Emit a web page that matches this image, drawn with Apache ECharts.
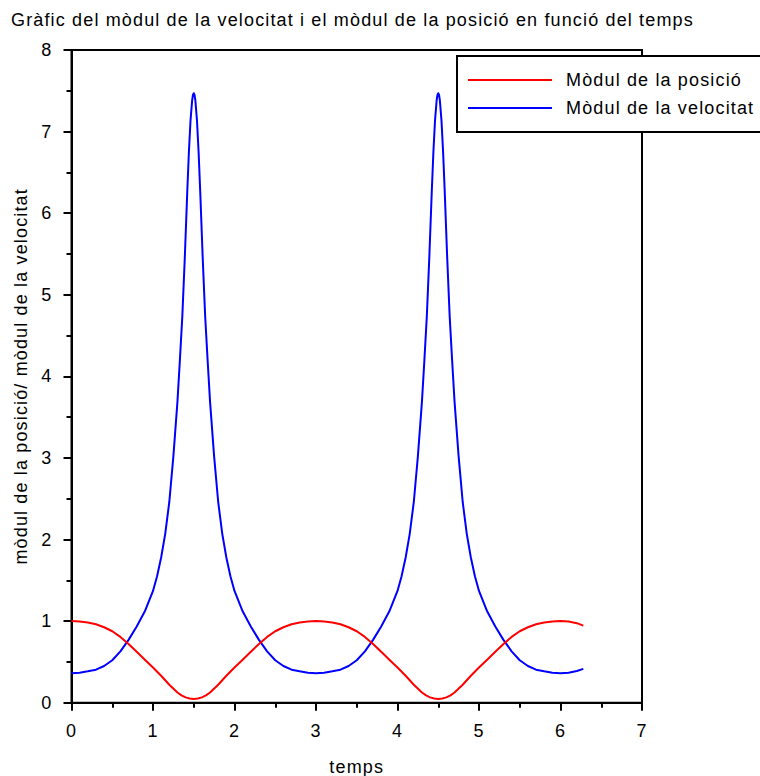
<!DOCTYPE html>
<html>
<head>
<meta charset="utf-8">
<script src="https://cdn.jsdelivr.net/npm/echarts@6/dist/echarts.min.js"></script>
<style>
html,body{margin:0;padding:0;background:#fff;}
#chart{width:760px;height:776px;}
#chart svg text{letter-spacing:1.15px;}
</style>
</head>
<body>
<div id="chart"></div>
<script>
// Data
// Mòdul de la posició
var tempsPosicio = [0, 0.1, 0.2, 0.3, 0.4, 0.5, 0.6, 0.7, 0.8, 0.9, 1.0, 1.1, 1.2, 1.3, 1.35, 1.4, 1.45, 1.5,
  1.55, 1.6, 1.65, 1.7, 1.8, 1.9, 2.0, 2.1, 2.2, 2.3, 2.4, 2.5, 2.6, 2.7, 2.8, 2.9, 3.0,
  3.1, 3.2, 3.3, 3.4, 3.5, 3.6, 3.7, 3.8, 3.9, 4.0, 4.1, 4.2, 4.3, 4.35, 4.4, 4.45, 4.5,
  4.55, 4.6, 4.65, 4.7, 4.8, 4.9, 5.0, 5.1, 5.2, 5.3, 5.4, 5.5, 5.6, 5.7, 5.8, 5.9, 6.0,
  6.1, 6.2, 6.28];
var modulPosicio = [1.000, 0.996, 0.984, 0.961, 0.925, 0.876, 0.806, 0.720, 0.624, 0.526, 0.432, 0.330, 0.220, 0.125, 0.090, 0.065, 0.051, 0.045,
  0.051, 0.065, 0.090, 0.125, 0.220, 0.330, 0.432, 0.526, 0.624, 0.720, 0.806, 0.876, 0.925, 0.961, 0.984, 0.996, 1.000,
  0.996, 0.984, 0.961, 0.925, 0.876, 0.806, 0.720, 0.624, 0.526, 0.432, 0.330, 0.220, 0.125, 0.090, 0.065, 0.051, 0.045,
  0.051, 0.065, 0.090, 0.125, 0.220, 0.330, 0.432, 0.526, 0.624, 0.720, 0.806, 0.876, 0.925, 0.961, 0.984, 0.996, 1.000,
  0.994, 0.975, 0.945];

// Mòdul de la velocitat
var tempsVelocitat = [0, 0.1, 0.2, 0.3, 0.4, 0.5, 0.6, 0.7, 0.8, 0.9, 1.0, 1.05, 1.1, 1.15, 1.2, 1.25, 1.3, 1.33, 1.36, 1.39, 1.42, 1.44, 1.46, 1.48, 1.49, 1.5,
  1.51, 1.52, 1.54, 1.56, 1.58, 1.61, 1.64, 1.67, 1.7, 1.75, 1.8, 1.85, 1.9, 1.95, 2.0, 2.1, 2.2, 2.3, 2.4, 2.5, 2.6, 2.7, 2.8, 2.9, 3.0,
  3.1, 3.2, 3.3, 3.4, 3.5, 3.6, 3.7, 3.8, 3.9, 4.0, 4.05, 4.1, 4.15, 4.2, 4.25, 4.3, 4.33, 4.36, 4.39, 4.42, 4.44, 4.46, 4.48, 4.49, 4.5,
  4.51, 4.52, 4.54, 4.56, 4.58, 4.61, 4.64, 4.67, 4.7, 4.75, 4.8, 4.85, 4.9, 4.95, 5.0, 5.1, 5.2, 5.3, 5.4, 5.5, 5.6, 5.7, 5.8, 5.9, 6.0,
  6.1, 6.2, 6.28];
var modulVelocitat = [0.360, 0.368, 0.385, 0.405, 0.450, 0.520, 0.630, 0.770, 0.935, 1.120, 1.370, 1.550, 1.780, 2.070, 2.460, 3.020, 3.690, 4.200, 4.740, 5.450, 6.250, 6.740, 7.130, 7.380, 7.450, 7.470,
  7.450, 7.380, 7.130, 6.740, 6.250, 5.450, 4.740, 4.200, 3.690, 3.020, 2.460, 2.070, 1.780, 1.550, 1.370, 1.120, 0.935, 0.770, 0.630, 0.520, 0.450, 0.405, 0.385, 0.368, 0.360,
  0.368, 0.385, 0.405, 0.450, 0.520, 0.630, 0.770, 0.935, 1.120, 1.370, 1.550, 1.780, 2.070, 2.460, 3.020, 3.690, 4.200, 4.740, 5.450, 6.250, 6.740, 7.130, 7.380, 7.450, 7.470,
  7.450, 7.380, 7.130, 6.740, 6.250, 5.450, 4.740, 4.200, 3.690, 3.020, 2.460, 2.070, 1.780, 1.550, 1.370, 1.120, 0.935, 0.770, 0.630, 0.520, 0.450, 0.405, 0.385, 0.368, 0.360,
  0.368, 0.388, 0.415];

var xTicks = [0, 1, 2, 3, 4, 5, 6, 7];
var yTicks = [0, 1, 2, 3, 4, 5, 6, 7, 8];

var titol = 'Gràfic del mòdul de la velocitat i el mòdul de la posició en funció del temps';
var nomX = 'temps';
var nomY = 'mòdul de la posició/ mòdul de la velocitat';
var nomSerie1 = 'Mòdul de la posició';
var nomSerie2 = 'Mòdul de la velocitat';

function pairs(xs, ys) {
  var out = [];
  for (var i = 0; i < xs.length; i++) out.push([xs[i], ys[i]]);
  return out;
}

var FONT = '"Liberation Sans", Arial, sans-serif';
var chart = echarts.init(document.getElementById('chart'), null, {renderer: 'svg'});
chart.setOption({
  backgroundColor: '#ffffff',
  animation: false,
  title: {
    text: titol,
    left: 6, top: 6,
    textStyle: {fontFamily: FONT, fontSize: 18, fontWeight: 'normal', color: '#000'}
  },
  legend: {
    orient: 'vertical',
    left: 457, top: 56,
    padding: [15, 40, 15, 11],
    icon: 'rect',
    itemWidth: 84, itemHeight: 2, itemGap: 10,
    backgroundColor: '#ffffff',
    borderColor: '#000', borderWidth: 2, borderRadius: 0,
    textStyle: {fontFamily: FONT, fontSize: 18, color: '#000', padding: [0, 0, 0, 9]},
    data: [nomSerie1, nomSerie2]
  },
  grid: {
    left: 71.5, top: 50, width: 570.5, height: 652.7,
    outerBoundsMode: 'none',
    show: true, borderColor: '#000', borderWidth: 2, backgroundColor: 'transparent'
  },
  xAxis: {
    type: 'value', min: xTicks[0], max: xTicks[xTicks.length - 1], interval: 1,
    name: nomX, nameLocation: 'middle', nameGap: 55,
    nameTextStyle: {fontFamily: FONT, fontSize: 18, color: '#000'},
    axisLine: {show: true, onZero: false, lineStyle: {color: '#000', width: 2}},
    axisTick: {show: true, inside: false, length: 8, lineStyle: {color: '#000', width: 2}},
    minorTick: {show: true, splitNumber: 2, length: 5, lineStyle: {color: '#000', width: 2}},
    axisLabel: {fontFamily: FONT, fontSize: 18, color: '#000', margin: 19},
    splitLine: {show: false}
  },
  yAxis: {
    type: 'value', min: yTicks[0], max: yTicks[yTicks.length - 1], interval: 1,
    name: nomY, nameLocation: 'middle', nameGap: 42,
    nameTextStyle: {fontFamily: FONT, fontSize: 18, color: '#000'},
    axisLine: {show: true, onZero: false, lineStyle: {color: '#000', width: 2}},
    axisTick: {show: true, inside: false, length: 8, lineStyle: {color: '#000', width: 2}},
    minorTick: {show: true, splitNumber: 2, length: 5, lineStyle: {color: '#000', width: 2}},
    axisLabel: {fontFamily: FONT, fontSize: 18, color: '#000', margin: 19},
    splitLine: {show: false}
  },
  series: [
    {
      name: nomSerie1, type: 'line', data: pairs(tempsPosicio, modulPosicio),
      showSymbol: false, symbol: 'none', smooth: false,
      lineStyle: {color: '#ff0000', width: 2, join: 'round'}, itemStyle: {color: '#ff0000'}, z: 3
    },
    {
      name: nomSerie2, type: 'line', data: pairs(tempsVelocitat, modulVelocitat),
      showSymbol: false, symbol: 'none', smooth: false,
      lineStyle: {color: '#0000ff', width: 2, join: 'round'}, itemStyle: {color: '#0000ff'}, z: 2
    }
  ]
});
</script>
</body>
</html>
